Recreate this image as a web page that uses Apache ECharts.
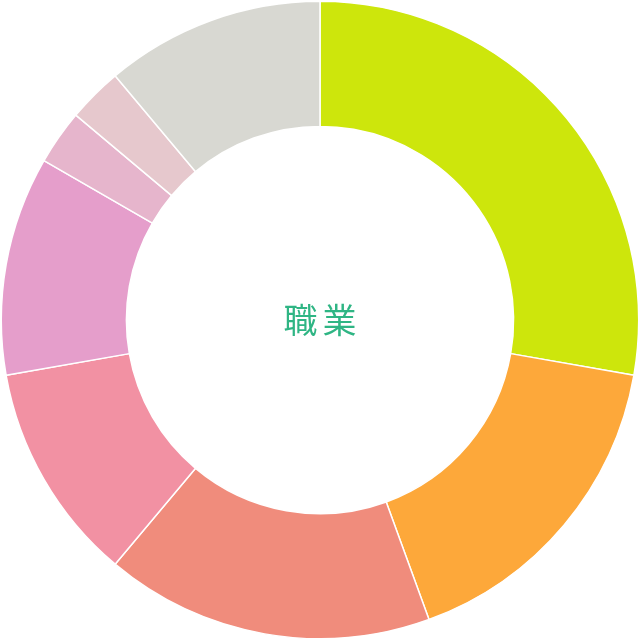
<!DOCTYPE html>
<html><head><meta charset="utf-8">
<script src="https://cdn.jsdelivr.net/npm/echarts@6/dist/echarts.min.js"></script>
<style>html,body{margin:0;padding:0;background:#fff}#c{width:640px;height:640px}</style>
</head><body><div id="c"></div>
<script>
const categories = ['A','B','C','D','E','F','G','H'];
const values = [10, 6, 6, 4, 4, 1, 1, 4];
const colors = ['#cde60c','#fda83a','#f08c7c','#f291a3','#e59ecb','#e6b5cc','#e6c8cd','#d8d8d2'];
const centerTitle = '職業';
const chart = echarts.init(document.getElementById('c'));
chart.setOption({
  animation: false,
  title: {
    text: '{a|' + centerTitle[0] + '}{b|' + centerTitle[1] + '}',
    left: 'center', top: 'middle',
    textStyle: {
      rich: {
        a: {fontSize: 34, color: '#2fb584', fontWeight: 'normal', fontFamily: 'Noto Sans CJK JP', padding: [0, 5, 0, 0]},
        b: {fontSize: 34, color: '#2fb584', fontWeight: 'normal', fontFamily: 'Noto Sans CJK JP'}
      }
    }
  },
  series: [{
    type: 'pie',
    radius: ['60.5%', '99.6%'],
    center: ['50%', '50%'],
    startAngle: 90,
    clockwise: true,
    label: {show: false},
    labelLine: {show: false},
    silent: true,
    itemStyle: {borderColor: '#fff', borderWidth: 1.5},
    data: categories.map((c, i) => ({name: c, value: values[i], itemStyle: {color: colors[i]}}))
  }]
});
</script></body></html>
